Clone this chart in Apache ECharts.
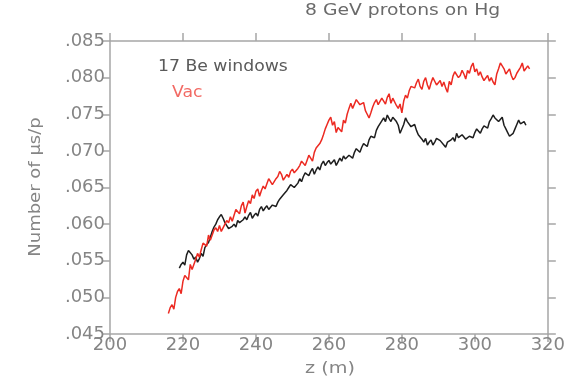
<!DOCTYPE html>
<html>
<head>
<meta charset="utf-8">
<script src="https://cdn.jsdelivr.net/npm/echarts@6/dist/echarts.min.js"></script>
<style>
  html, body { margin: 0; padding: 0; background: #fff; }
  #chart { width: 568px; height: 381px; }
</style>
</head>
<body>
<div id="chart"></div>
<script>
// Muon yield per proton along the decay channel, two configurations.
const zStep = 0.5;
const zStartBe = 219;
const zStartVac = 216;

// 17 Be windows (z = 219 .. 314 m, 0.5 m steps)
const beWindows = [
  0.0540, 0.0545, 0.0548, 0.0544, 0.0558, 0.0564, 0.0562, 0.0558, 0.0552, 0.0555,
  0.0548, 0.0553, 0.0560, 0.0556, 0.0568, 0.0572, 0.0575, 0.0582, 0.0590, 0.0596,
  0.0600, 0.0606, 0.0610, 0.0613, 0.0608, 0.0602, 0.0598, 0.0594, 0.0592, 0.0597,
  0.0600, 0.0596, 0.0605, 0.0602, 0.0600, 0.0606, 0.0610, 0.0606, 0.0612, 0.0616,
  0.0608, 0.0612, 0.0615, 0.0611, 0.0620, 0.0624, 0.0618, 0.0622, 0.0625, 0.0620,
  0.0620, 0.0626, 0.0628, 0.0624, 0.0630, 0.0634, 0.0635, 0.0640, 0.0642, 0.0646,
  0.0650, 0.0654, 0.0655, 0.0650, 0.0650, 0.0656, 0.0662, 0.0658, 0.0665, 0.0670,
  0.0670, 0.0666, 0.0672, 0.0676, 0.0668, 0.0674, 0.0678, 0.0674, 0.0682, 0.0686,
  0.0680, 0.0684, 0.0687, 0.0682, 0.0683, 0.0688, 0.0680, 0.0685, 0.0690, 0.0686,
  0.0693, 0.0689, 0.0688, 0.0694, 0.0695, 0.0690, 0.0698, 0.0703, 0.0702, 0.0698,
  0.0705, 0.0710, 0.0710, 0.0706, 0.0715, 0.0720, 0.0722, 0.0718, 0.0728, 0.0733,
  0.0735, 0.0741, 0.0745, 0.0740, 0.0749, 0.0744, 0.0740, 0.0746, 0.0745, 0.0740,
  0.0735, 0.0724, 0.0722, 0.0736, 0.0745, 0.0740, 0.0738, 0.0733, 0.0732, 0.0736,
  0.0728, 0.0722, 0.0720, 0.0716, 0.0712, 0.0717, 0.0708, 0.0712, 0.0715, 0.0708,
  0.0712, 0.0717, 0.0719, 0.0714, 0.0712, 0.0708, 0.0705, 0.0712, 0.0710, 0.0715,
  0.0718, 0.0713, 0.0724, 0.0718, 0.0718, 0.0722, 0.0720, 0.0716, 0.0715, 0.0720,
  0.0722, 0.0718, 0.0725, 0.0730, 0.0728, 0.0724, 0.0730, 0.0734, 0.0735, 0.0731,
  0.0740, 0.0744, 0.0749, 0.0745, 0.0745, 0.0740, 0.0742, 0.0746, 0.0735, 0.0730,
  0.0725, 0.0720, 0.0719, 0.0724, 0.0730, 0.0736, 0.0742, 0.0737, 0.0735, 0.0740,
  0.0735
];

// Vac (z = 216 .. 315 m, 0.5 m steps)
const vac = [
  0.0478, 0.0486, 0.0490, 0.0484, 0.0500, 0.0508, 0.0512, 0.0505, 0.0522, 0.0530,
  0.0530, 0.0524, 0.0545, 0.0538, 0.0540, 0.0552, 0.0560, 0.0555, 0.0565, 0.0574,
  0.0575, 0.0570, 0.0585, 0.0578, 0.0580, 0.0592, 0.0595, 0.0590, 0.0598, 0.0590,
  0.0592, 0.0600, 0.0605, 0.0602, 0.0610, 0.0604, 0.0612, 0.0620, 0.0620, 0.0614,
  0.0625, 0.0630, 0.0615, 0.0624, 0.0632, 0.0628, 0.0640, 0.0635, 0.0645, 0.0648,
  0.0638, 0.0646, 0.0652, 0.0648, 0.0655, 0.0662, 0.0660, 0.0654, 0.0655, 0.0662,
  0.0665, 0.0672, 0.0668, 0.0660, 0.0662, 0.0668, 0.0664, 0.0672, 0.0675, 0.0670,
  0.0668, 0.0676, 0.0680, 0.0686, 0.0685, 0.0680, 0.0687, 0.0694, 0.0690, 0.0686,
  0.0698, 0.0704, 0.0702, 0.0710, 0.0715, 0.0722, 0.0730, 0.0736, 0.0742, 0.0746,
  0.0735, 0.0740, 0.0725, 0.0732, 0.0730, 0.0726, 0.0742, 0.0738, 0.0750, 0.0758,
  0.0765, 0.0758, 0.0760, 0.0770, 0.0768, 0.0763, 0.0762, 0.0766, 0.0755, 0.0750,
  0.0745, 0.0752, 0.0760, 0.0766, 0.0770, 0.0763, 0.0762, 0.0772, 0.0768, 0.0764,
  0.0773, 0.0778, 0.0765, 0.0772, 0.0770, 0.0762, 0.0758, 0.0764, 0.0752, 0.0768,
  0.0776, 0.0772, 0.0782, 0.0788, 0.0790, 0.0786, 0.0793, 0.0798, 0.0788, 0.0784,
  0.0795, 0.0800, 0.0790, 0.0784, 0.0793, 0.0800, 0.0795, 0.0790, 0.0790, 0.0796,
  0.0788, 0.0794, 0.0786, 0.0780, 0.0795, 0.0790, 0.0802, 0.0808, 0.0808, 0.0800,
  0.0803, 0.0810, 0.0805, 0.0798, 0.0810, 0.0806, 0.0815, 0.0820, 0.0808, 0.0812,
  0.0803, 0.0808, 0.0801, 0.0796, 0.0798, 0.0803, 0.0795, 0.0800, 0.0794, 0.0790,
  0.0805, 0.0812, 0.0820, 0.0816, 0.0812, 0.0805, 0.0806, 0.0812, 0.0803, 0.0797,
  0.0800, 0.0806, 0.0808, 0.0814, 0.0820, 0.0809, 0.0808, 0.0816, 0.0812
];

const xTickLabels = ['200', '220', '240', '260', '280', '300', '320'];
const yTickLabels = ['.045', '.050', '.055', '.060', '.065', '.070', '.075', '.080', '.085'];

const titleText = '8 GeV protons on Hg';
const seriesNames = ['17 Be windows', 'Vac'];
const xName = 'z (m)';
const yName = 'Number of \u03bcs/p';

const pairs = (start, arr) => arr.map((v, i) => [start + i * zStep, v]);

const font = 'DejaVu Sans';
const textGray = '#858585';
const axisGray = '#a6a6a6';

const axisCommon = {
  axisLine: { show: true, lineStyle: { color: axisGray, width: 1.5 } },
  axisTick: { show: true, inside: false, length: 8, lineStyle: { color: axisGray, width: 1.5 } },
  splitLine: { show: false },
  minorTick: { show: false }
};

const xMin = +xTickLabels[0], xMax = +xTickLabels[xTickLabels.length - 1];
const yMin = parseFloat(yTickLabels[0]), yMax = parseFloat(yTickLabels[yTickLabels.length - 1]);

const chart = echarts.init(document.getElementById('chart'), null, { renderer: 'canvas' });
chart.setOption({
  animation: false,
  backgroundColor: '#fff',
  grid: { left: 110, right: 19, top: 41, bottom: 47 },
  xAxis: [
    Object.assign({
      type: 'value', position: 'bottom', min: xMin, max: xMax, interval: 20,
      axisLabel: {
        fontFamily: font, fontSize: 18, color: textGray, margin: 2,
        formatter: v => xTickLabels[Math.round((v - xMin) / 20)] || ''
      }
    }, axisCommon),
    Object.assign({
      type: 'value', position: 'top', min: xMin, max: xMax, interval: 20,
      axisLabel: { show: false }
    }, axisCommon)
  ],
  yAxis: [
    Object.assign({
      type: 'value', position: 'left', min: yMin, max: yMax, interval: 0.005,
      axisLabel: {
        fontFamily: font, fontSize: 18, color: textGray, margin: 5,
        formatter: v => yTickLabels[Math.round((v - yMin) / 0.005)] || ''
      }
    }, axisCommon),
    Object.assign({
      type: 'value', position: 'right', min: yMin, max: yMax, interval: 0.005,
      axisLabel: { show: false }
    }, axisCommon)
  ],
  series: [
    {
      name: seriesNames[0], type: 'line', xAxisIndex: 0, yAxisIndex: 0,
      data: pairs(zStartBe, beWindows), showSymbol: false, symbol: 'none',
      lineStyle: { color: '#1e1e1e', width: 1.5 }, z: 2
    },
    {
      name: seriesNames[1], type: 'line', xAxisIndex: 0, yAxisIndex: 0,
      data: pairs(zStartVac, vac), showSymbol: false, symbol: 'none',
      lineStyle: { color: '#ec2a22', width: 1.5 }, z: 3
    }
  ],
  graphic: [
    {
      type: 'text', left: 305, top: 4, scaleX: 1.25,
      style: { text: titleText, font: '15px "DejaVu Sans"', fill: '#6a6a6a' }
    },
    {
      type: 'text', left: 158, top: 60, scaleX: 1.15,
      style: { text: seriesNames[0], font: '15px "DejaVu Sans"', fill: '#5a5a5a' }
    },
    {
      type: 'text', left: 172, top: 86, scaleX: 1.15,
      style: { text: seriesNames[1], font: '15px "DejaVu Sans"', fill: '#f26a64' }
    },
    {
      type: 'text', x: 330, y: 369, scaleX: 1.2,
      style: { text: xName, font: '16px "DejaVu Sans"', fill: textGray, textAlign: 'center', textVerticalAlign: 'middle' }
    },
    {
      type: 'text', x: 36, y: 187, rotation: Math.PI / 2, scaleX: 1.2,
      style: { text: yName, font: '15px "DejaVu Sans"', fill: textGray, textAlign: 'center', textVerticalAlign: 'middle' }
    }
  ]
});
</script>
</body>
</html>
